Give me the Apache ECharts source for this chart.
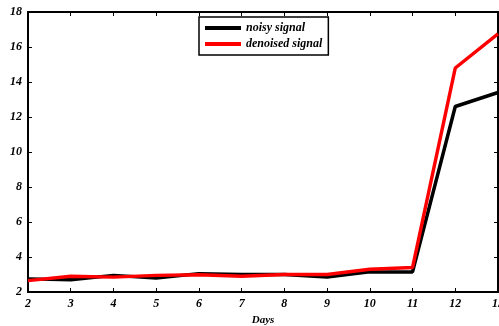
<!DOCTYPE html>
<html>
<head>
<meta charset="utf-8">
<script src="https://cdn.jsdelivr.net/npm/echarts@6/dist/echarts.min.js"></script>
<style>
  html, body { margin: 0; padding: 0; background: #fff; }
  #chart { width: 499px; height: 326px; }
</style>
</head>
<body>
<div id="chart"></div>
<script>
const days = [2, 3, 4, 5, 6, 7, 8, 9, 10, 11, 12, 13]
const noisy = [2.75, 2.7, 2.95, 2.8, 3.05, 3.0, 3.0, 2.85, 3.15, 3.15, 12.6, 13.4]
const denoised = [2.65, 2.9, 2.85, 2.95, 2.98, 2.9, 3.0, 3.0, 3.3, 3.4, 14.8, 16.75]
const seriesNames = ['noisy signal', 'denoised signal']

const font = 'Liberation Serif'
const labelStyle = { color: '#000', fontFamily: font, fontStyle: 'italic', fontWeight: 'bold', fontSize: 12 }
const lineStyle = { color: '#000', width: 2 }

const chart = echarts.init(document.getElementById('chart'))
chart.setOption({
  animation: false,
  backgroundColor: '#fff',
  grid: { left: 28, right: 1, top: 12, bottom: 34, outerBoundsMode: 'none' },
  legend: {
    left: 199,
    top: 17,
    orient: 'vertical',
    itemWidth: 36,
    itemHeight: 4,
    itemGap: 4,
    padding: [5, 6, 5, 6],
    borderColor: '#000',
    borderWidth: 1.5,
    backgroundColor: '#fff',
    icon: 'rect',
    textStyle: { color: '#000', fontFamily: font, fontStyle: 'italic', fontWeight: 'bold', fontSize: 12 },
    data: seriesNames
  },
  xAxis: [
    {
      type: 'value',
      min: 2,
      max: 13,
      interval: 1,
      name: 'Days',
      nameLocation: 'middle',
      nameGap: 20,
      nameTextStyle: Object.assign({}, labelStyle, { fontSize: 11 }),
      axisLine: { lineStyle: lineStyle },
      axisTick: { inside: true, length: 4, lineStyle: { color: '#000', width: 1 } },
      axisLabel: Object.assign({ margin: 6 }, labelStyle),
      splitLine: { show: false }
    },
    {
      type: 'value',
      position: 'top',
      min: 2,
      max: 13,
      interval: 1,
      axisLine: { lineStyle: lineStyle },
      axisTick: { inside: true, length: 4, lineStyle: { color: '#000', width: 1 } },
      axisLabel: { show: false },
      splitLine: { show: false }
    }
  ],
  yAxis: [
    {
      type: 'value',
      min: 2,
      max: 18,
      interval: 2,
      axisLine: { show: true, lineStyle: lineStyle },
      axisTick: { show: true, inside: true, length: 4, lineStyle: { color: '#000', width: 1 } },
      axisLabel: Object.assign({ margin: 6 }, labelStyle),
      splitLine: { show: false }
    },
    {
      type: 'value',
      position: 'right',
      min: 2,
      max: 18,
      interval: 2,
      axisLine: { show: true, lineStyle: lineStyle },
      axisTick: { show: true, inside: true, length: 4, lineStyle: { color: '#000', width: 1 } },
      axisLabel: { show: false },
      splitLine: { show: false }
    }
  ],
  series: [
    {
      name: seriesNames[0],
      type: 'line',
      data: days.map((d, i) => [d, noisy[i]]),
      symbol: 'none',
      itemStyle: { color: '#000' },
      lineStyle: { color: '#000', width: 3.5 }
    },
    {
      name: seriesNames[1],
      type: 'line',
      data: days.map((d, i) => [d, denoised[i]]),
      symbol: 'none',
      itemStyle: { color: '#ff0000' },
      lineStyle: { color: '#ff0000', width: 3.5 }
    }
  ]
})
</script>
</body>
</html>
